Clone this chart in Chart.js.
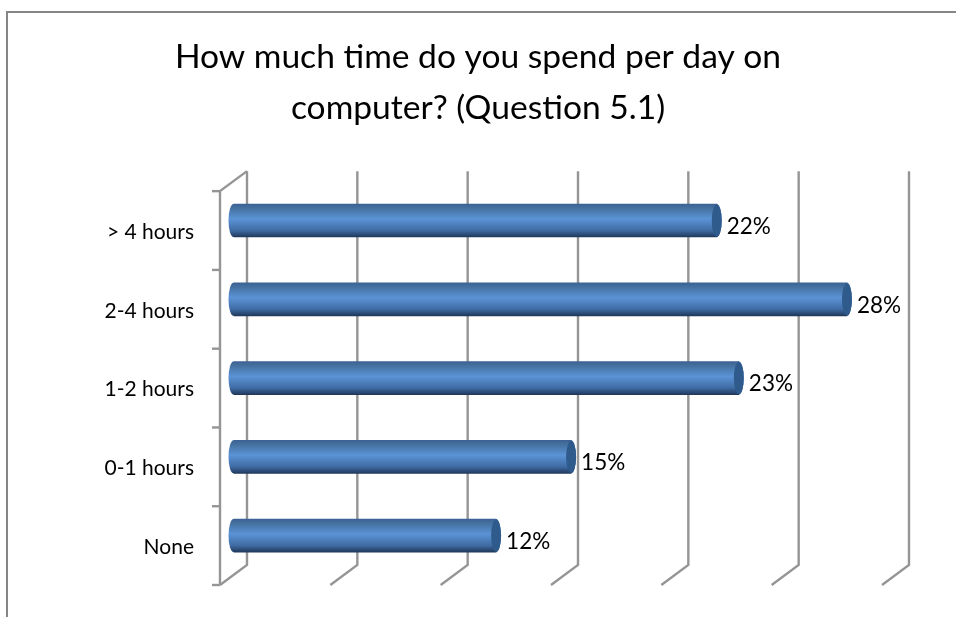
<!DOCTYPE html>
<html><head><meta charset="UTF-8">
<title>Time on computer</title>
<script src="https://cdn.jsdelivr.net/npm/chart.js"></script>
<style>
body { margin: 0; background: #fff; }
.frame {
  position: absolute; left: 6px; top: 11px; right: 0; bottom: 0;
  border-left: 2px solid #868686; border-top: 2px solid #868686;
}
canvas { position: absolute; left: 0; top: 0; }
</style>
</head>
<body>
<div class="frame"></div>
<canvas id="chart" width="956" height="617"></canvas>
<script>
const titleLines = ['How much time do you spend per day on', 'computer? (Question 5.1)'];
const categories = ['> 4 hours', '2-4 hours', '1-2 hours', '0-1 hours', 'None'];
const shares = [21.9, 27.8, 22.9, 15.3, 11.9];

const fontName = 'Lato, "Open Sans", sans-serif';
const gridColor = '#959595';
const depthX = 13.5, depthY = 10; // half of the fake 3D wall offset
const capX = 5;

function barGradient(ctx, top, bottom) {
  const g = ctx.createLinearGradient(0, top, 0, bottom);
  g.addColorStop(0, '#3b6294');
  g.addColorStop(0.12, '#44709f');
  g.addColorStop(0.45, '#5b93d6');
  g.addColorStop(0.8, '#3f6ba3');
  g.addColorStop(1, '#20395c');
  return g;
}

const wallPlugin = {
  id: 'wall',
  beforeDatasetsDraw(chart) {
    const { ctx, chartArea, scales: { x } } = chart;
    const top = chartArea.top, bottom = chartArea.bottom;
    ctx.save();
    ctx.strokeStyle = gridColor;
    ctx.lineWidth = 2.4;
    // back wall verticals and floor diagonals
    x.ticks.forEach((t, i) => {
      const px = x.getPixelForTick(i);
      ctx.beginPath();
      ctx.moveTo(px + depthX, top - depthY);
      ctx.lineTo(px + depthX, bottom - depthY);
      ctx.lineTo(px - depthX, bottom + depthY);
      ctx.stroke();
    });
    // front axis, top diagonal and tick marks
    const x0 = x.getPixelForValue(0);
    ctx.beginPath();
    ctx.moveTo(x0 + depthX, top - depthY);
    ctx.lineTo(x0 - depthX, top + depthY);
    ctx.lineTo(x0 - depthX, bottom + depthY);
    ctx.stroke();
    for (let i = 0; i <= categories.length; i++) {
      const py = top + depthY + i * (bottom - top) / categories.length;
      ctx.beginPath();
      ctx.moveTo(x0 - depthX - 8, py);
      ctx.lineTo(x0 - depthX, py);
      ctx.stroke();
    }
    ctx.restore();
  },
  afterDatasetsDraw(chart) {
    const ctx = chart.ctx;
    ctx.save();
    chart.getDatasetMeta(0).data.forEach((bar, i) => {
      const h = bar.height / 2;
      const fill = barGradient(ctx, bar.y - h, bar.y + h);
      // rounded left end
      ctx.fillStyle = fill;
      ctx.beginPath();
      ctx.ellipse(bar.base, bar.y, capX, h, 0, 0, Math.PI * 2);
      ctx.fill();
      // rounded right end with its darker face
      ctx.beginPath();
      ctx.ellipse(bar.x, bar.y, capX, h, 0, 0, Math.PI * 2);
      ctx.fill();
      ctx.fillStyle = '#2f5a8c';
      ctx.beginPath();
      ctx.ellipse(bar.x, bar.y, capX, h - 0.5, 0, 0, Math.PI * 2);
      ctx.fill();
      // value label
      ctx.fillStyle = '#000';
      ctx.font = '22.5px ' + fontName;
      ctx.textAlign = 'left';
      ctx.textBaseline = 'middle';
      ctx.fillText(Math.round(shares[i]) + '%', bar.x + capX + 5, bar.y + 6);
    });
    ctx.restore();
  }
};

new Chart(document.getElementById('chart'), {
  type: 'bar',
  data: {
    labels: categories,
    datasets: [{
      data: shares,
      barThickness: 33,
      borderSkipped: false,
      backgroundColor: c => {
        if (c.dataIndex === undefined) return '#4f81bd';
        const py = c.chart.scales.y.getPixelForValue(c.dataIndex);
        if (!Number.isFinite(py)) return '#4f81bd';
        return barGradient(c.chart.ctx, py - 16.5, py + 16.5);
      }
    }]
  },
  options: {
    indexAxis: 'y',
    responsive: false,
    animation: false,
    events: [],
    layout: { padding: { left: 60.5, right: 60.5, top: 0, bottom: 42 } },
    plugins: {
      legend: { display: false },
      tooltip: { enabled: false },
      title: {
        display: true,
        text: titleLines,
        color: '#000',
        font: { family: fontName, size: 33.6, weight: 'normal', lineHeight: 1.52 },
        padding: { top: 31.5, bottom: 47.5 }
      }
    },
    scales: {
      x: {
        min: 0, max: 30,
        ticks: { display: false, stepSize: 5 },
        grid: { display: false, drawTicks: false },
        border: { display: false },
        afterFit: s => { s.height = 0; s.paddingLeft = 0; s.paddingRight = 0; }
      },
      y: {
        grid: { display: false, drawTicks: false },
        border: { display: false },
        afterFit: s => { s.width = 173; s.paddingTop = 0; s.paddingBottom = 0; },
        ticks: {
          color: '#000',
          padding: 39.5,
          labelOffset: 11.5,
          font: { family: fontName, size: 21 }
        }
      }
    }
  },
  plugins: [wallPlugin]
});
</script>
</body></html>
